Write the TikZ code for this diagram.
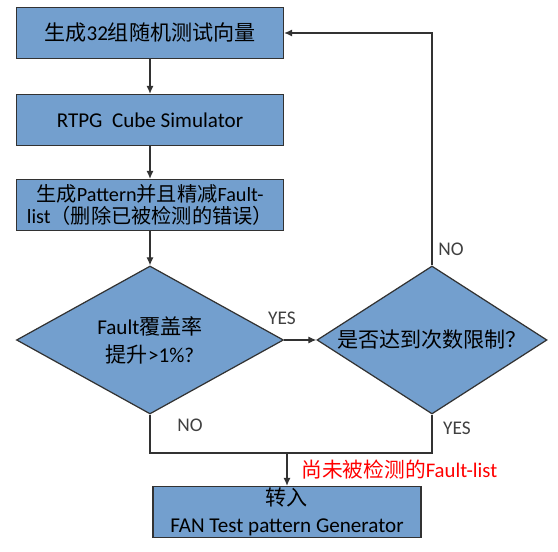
\documentclass[tikz,border=0pt]{standalone}
\usepackage{fontspec}
\setmainfont{Carlito}
\newfontfamily\cjk{Noto Sans CJK SC}
\newcommand{\zh}[1]{{\cjk #1}}
\usetikzlibrary{shapes.geometric,arrows.meta}
\definecolor{boxblue}{RGB}{115,159,206}
\definecolor{edgegray}{RGB}{50,50,50}
\tikzset{
  box/.style={draw=edgegray,line width=0.7pt,fill=boxblue,minimum width=5.34cm,minimum height=1.02cm,inner sep=1pt,align=center,font=\fontsize{12}{14}\selectfont},
  decision/.style={draw=edgegray,line width=0.7pt,fill=boxblue,diamond,inner sep=0pt,minimum height=2.96cm,align=center,font=\fontsize{12}{16}\selectfont},
  flow/.style={line width=0.7pt,draw=edgegray,-{Latex[length=1.6mm,width=1.4mm]}},
  tag/.style={font=\fontsize{11}{13}\selectfont,text=black!75}
}
\begin{document}
\begin{tikzpicture}
\useasboundingbox (0,0) rectangle (11.16,-11.04);

\node[box] (a) at (3.0,-0.66) {\zh{生成}32\zh{组随机测试向量}};
\node[box] (b) at (3.0,-2.4) {RTPG\ \ Cube Simulator};
\node[box,font=\fontsize{11.5}{13}\selectfont] (c) at (3.0,-4.1) {\zh{生成}Pattern\zh{并且精减}Fault-\\list\zh{（删除已被检测的错误）}};
\node[decision,aspect=1.8,minimum width=5.34cm] (d) at (3.0,-6.8) {Fault\zh{覆盖率}\\\zh{提升}>1\%?};
\node[decision,aspect=1.55,minimum width=4.6cm] (e) at (8.64,-6.8) {\zh{是否达到次数限制？}};
\node[box,minimum width=5.36cm,minimum height=1.0cm,font=\fontsize{12}{15}\selectfont] (f) at (5.74,-10.24) {\zh{转入}\\FAN Test pattern Generator};

\coordinate (j) at (5.74,-9.06);

\draw[flow] (a) -- (b);
\draw[flow] (b) -- (c);
\draw[flow] (c) -- (d);
\draw[flow] (d) -- (e);
\draw[flow] (e.north) |- (a.east);
\draw[line width=0.7pt,draw=edgegray] (d.south) |- (j);
\draw[line width=0.7pt,draw=edgegray] (e.south) |- (j);
\draw[flow] (j) -- (f);

\node[tag] at (5.64,-6.36) {YES};
\node[tag] at (3.8,-8.5) {NO};
\node[tag] at (9.02,-4.98) {NO};
\node[tag] at (9.14,-8.56) {YES};
\node[anchor=west,text=red,inner sep=0pt,font=\fontsize{11.8}{13}\selectfont] at (6.02,-9.4) {\zh{尚未被检测的}Fault-list};
\end{tikzpicture}
\end{document}
